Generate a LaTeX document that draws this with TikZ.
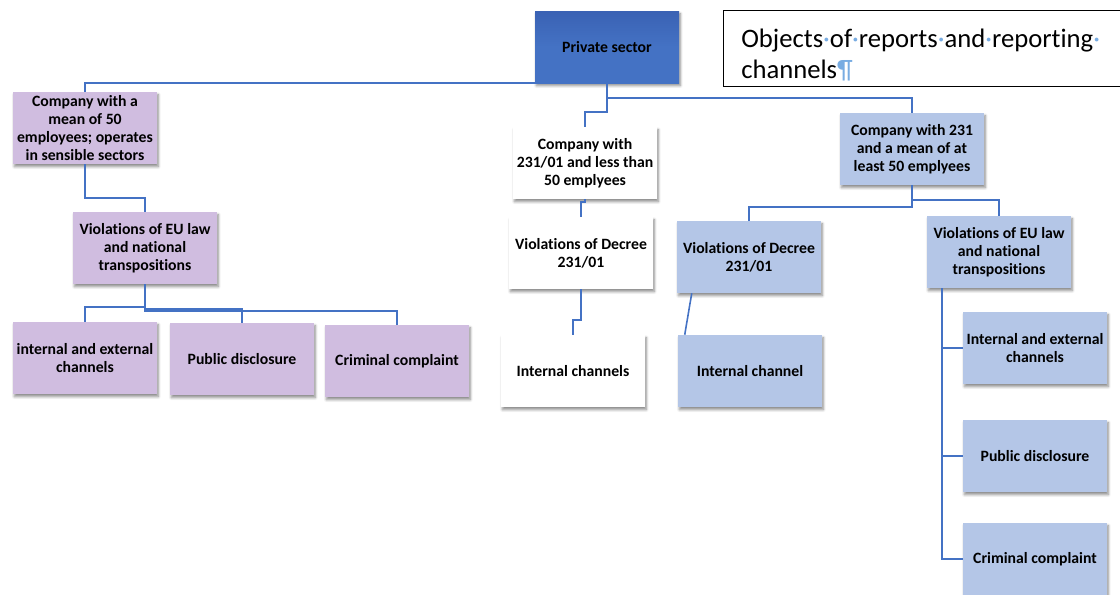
\documentclass[tikz,border=0pt]{standalone}
\usepackage{fontspec}
\setmainfont[Ligatures={NoCommon,NoContextual},RawFeature={-dlig;-liga;-calt}]{Carlito}
\usetikzlibrary{shadows.blur,calc}
\definecolor{lineblue}{RGB}{68,114,196}
\definecolor{psblue}{RGB}{68,114,196}
\definecolor{psdark}{RGB}{58,98,180}
\definecolor{lightblue}{RGB}{180,198,231}
\definecolor{lav}{RGB}{208,189,224}
\definecolor{markblue}{RGB}{120,172,226}
\tikzset{
  box/.style={rectangle, minimum width=108pt, minimum height=54pt, inner sep=1pt,
    align=center, font=\bfseries\fontsize{11.8}{13.5}\selectfont,
    blur shadow={shadow xshift=1pt, shadow yshift=-2pt, shadow blur steps=6, shadow opacity=45}},
  purplebox/.style={box, fill=lav},
  whitebox/.style={box, fill=white},
  bluebox/.style={box, fill=lightblue},
  conn/.style={draw=lineblue, line width=1.2pt},
  titletxt/.style={anchor=base west, inner sep=0, font=\fontsize{20}{24}\selectfont}
}
\newcommand{\bdot}{\textcolor{markblue}{·}}
\begin{document}
\begin{tikzpicture}[x=0.75pt,y=-0.75pt]
\useasboundingbox (0,0) rectangle (1120,594);
% title
\node (title) [anchor=north west, minimum width=315pt, minimum height=57pt, inner sep=0] at (723,10) {};
\draw[black, line width=0.7pt] (title.north east) -- (title.north west) -- (title.south west) -- (title.south east);
\node (t1) [titletxt] at (741,47) {Objects\bdot of\bdot reports\bdot and\bdot reporting\bdot};
\node (t2) [titletxt] at (741,78) {channels\textcolor{markblue}{¶}};
% nodes
\node (ps) [box, top color=psdark, bottom color=psblue, middle color=psblue] at (607,47) {Private sector};
\node (c1) [purplebox] at (85,128) {Company with a\\mean of 50\\employees; operates\\in sensible sectors};
\node (c2) [whitebox] at (585,163) {Company with\\231/01 and less than\\50 emplyees};
\node (c3) [bluebox] at (912,149) {Company with 231\\and a mean of at\\least 50 emplyees};
\node (v1) [purplebox] at (145,248) {Violations of EU law\\and national\\transpositions};
\node (v2) [whitebox] at (581,253) {Violations of Decree\\231/01};
\node (v3) [bluebox] at (749,257) {Violations of Decree\\231/01};
\node (v4) [bluebox] at (999,252) {Violations of EU law\\and national\\transpositions};
\node (l1) [purplebox] at (85,358) {internal and external\\channels};
\node (l2) [purplebox] at (242,359) {Public disclosure};
\node (l3) [purplebox] at (397,361) {Criminal complaint};
\node (i2) [whitebox] at (573,371) {Internal channels};
\node (i3) [bluebox] at (750,371) {Internal channel};
\node (r1) [bluebox] at (1035,348) {Internal and external\\channels};
\node (r2) [bluebox] at (1035,456) {Public disclosure};
\node (r3) [bluebox] at (1035,559) {Criminal complaint};
% connectors
\draw[conn] (c1.north) -- (c1.north |- ps.south) -- (ps.south);
\draw[conn] (ps.south) -- ++(0,15) -| (c3.north);
\draw[conn] (ps.south) -- ++(0,29) -| (c2.north);
\draw[conn] (c1.south) -- ++(0,34) -| (v1.north);
\draw[conn] (v1.south) -- ++(0,23) -| (l1.north);
\draw[conn] (v1.south) -- ++(0,25) -| (l2.north);
\draw[conn] (v1.south) -- ++(0,27) -| (l3.north);
\draw[conn] (c2.south) -- ++(0,3) -| (v2.north);
\draw[conn] (v2.south) -- ++(0,31) -| (i2.north);
\draw[conn] (c3.south) -- ++(0,22) -| (v3.north);
\draw[conn] (c3.south) -- ++(0,15) -| (v4.north);
\draw[conn] ($(v3.south west)+(15,0)$) -- ($(i3.north west)+(7,0)$);
\draw[conn] ($(v4.south west)+(15,0)$) |- (r1.west);
\draw[conn] ($(v4.south west)+(15,0)$) |- (r2.west);
\draw[conn] ($(v4.south west)+(15,0)$) |- (r3.west);
\end{tikzpicture}
\end{document}
